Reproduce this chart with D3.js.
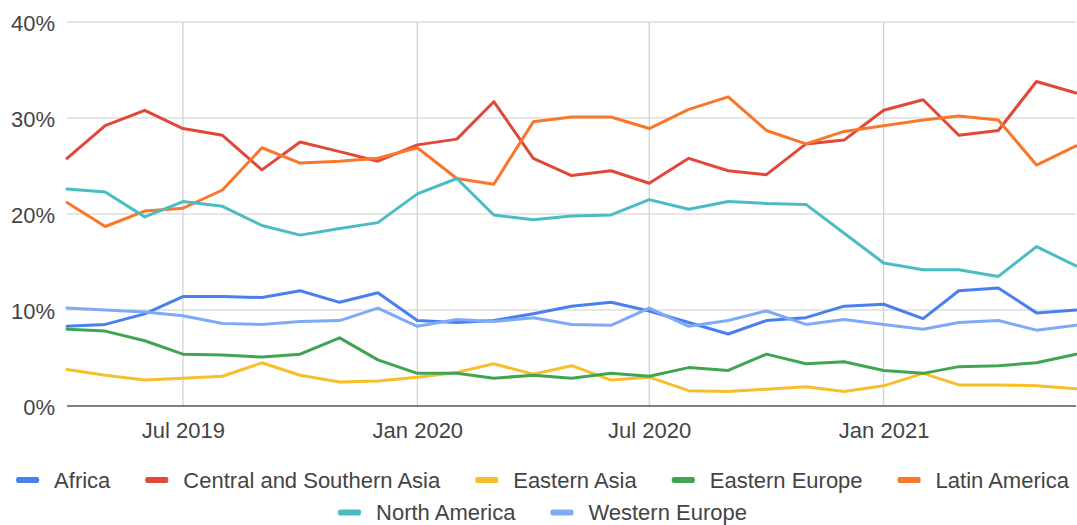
<!DOCTYPE html>
<html>
<head>
<meta charset="utf-8">
<script src="https://cdn.jsdelivr.net/npm/d3@7"></script>
<style>
  html, body { margin: 0; padding: 0; background: #fff; }
  svg text { font-family: "Liberation Sans", Arial, sans-serif; fill: #444; }
</style>
</head>
<body>
<svg id="chart" width="1077" height="525"></svg>
<script>
// Monthly share by region, Apr 2019 – Jun 2021 (percent)
const months = [
  "2019-04","2019-05","2019-06","2019-07","2019-08","2019-09","2019-10","2019-11","2019-12",
  "2020-01","2020-02","2020-03","2020-04","2020-05","2020-06","2020-07","2020-08","2020-09",
  "2020-10","2020-11","2020-12","2021-01","2021-02","2021-03","2021-04","2021-05","2021-06"
];
const seriesNames = ["Africa","Central and Southern Asia","Eastern Asia","Eastern Europe","Latin America","North America","Western Europe"];
const seriesColors = ["#4a7ff0","#e0483a","#f7c02b","#3fa553","#f9772a","#4cbcc4","#7eaaf6"];

const africa = [8.3,8.5,9.6,11.4,11.4,11.3,12.0,10.8,11.8,8.9,8.7,8.9,9.6,10.4,10.8,9.9,8.7,7.5,8.9,9.2,10.4,10.6,9.1,12.0,12.3,9.7,10.0];
const centralSouthernAsia = [25.8,29.2,30.8,28.9,28.2,24.6,27.5,26.5,25.5,27.2,27.8,31.7,25.8,24.0,24.5,23.2,25.8,24.5,24.1,27.3,27.7,30.8,31.9,28.2,28.7,33.8,32.6];
const easternAsia = [3.8,3.2,2.7,2.9,3.1,4.5,3.2,2.5,2.6,3.0,3.5,4.4,3.3,4.2,2.7,3.0,1.6,1.5,1.75,2.0,1.5,2.1,3.4,2.2,2.2,2.1,1.8];
const easternEurope = [8.0,7.8,6.8,5.4,5.3,5.1,5.4,7.1,4.8,3.4,3.4,2.9,3.2,2.9,3.4,3.1,4.0,3.7,5.4,4.4,4.6,3.7,3.4,4.1,4.2,4.5,5.4];
const latinAmerica = [21.2,18.7,20.3,20.6,22.5,26.9,25.3,25.5,25.8,26.9,23.7,23.1,29.6,30.1,30.1,28.9,30.9,32.2,28.7,27.3,28.6,29.2,29.8,30.2,29.8,25.1,27.1];
const northAmerica = [22.6,22.3,19.7,21.3,20.8,18.8,17.8,18.5,19.1,22.1,23.7,19.9,19.4,19.8,19.9,21.5,20.5,21.3,21.1,21.0,18.0,14.9,14.2,14.2,13.5,16.6,14.6];
const westernEurope = [10.2,10.0,9.8,9.4,8.6,8.5,8.8,8.9,10.2,8.3,9.0,8.8,9.2,8.5,8.4,10.2,8.3,8.9,9.9,8.5,9.0,8.5,8.0,8.7,8.9,7.9,8.4];

const yTicks = [0, 10, 20, 30, 40];
const xTickLabels = ["Jul 2019","Jan 2020","Jul 2020","Jan 2021"];

const seriesValues = [africa, centralSouthernAsia, easternAsia, easternEurope, latinAmerica, northAmerica, westernEurope];

const parseMonth = d3.timeParse("%Y-%m");
const dates = months.map(parseMonth);
const parseLabel = d3.timeParse("%b %Y");
const xTickDates = xTickLabels.map(parseLabel);

const svg = d3.select("#chart");
const plotLeft = 67, plotRight = 1076, plotTop = 22, plotBottom = 406;
const fontSize = "22px";

const x = d3.scaleTime().domain(d3.extent(dates)).range([plotLeft, plotRight]);
const y = d3.scaleLinear().domain([0, 40]).range([plotBottom, plotTop]);

// Horizontal gridlines
svg.append("g")
  .selectAll("line")
  .data(yTicks.filter(t => t > 0))
  .join("line")
  .attr("x1", plotLeft).attr("x2", plotRight)
  .attr("y1", d => y(d)).attr("y2", d => y(d))
  .attr("stroke", "#d0d0d0").attr("stroke-width", 1.2);

// Vertical gridlines at labelled months
svg.append("g")
  .selectAll("line")
  .data(xTickDates)
  .join("line")
  .attr("x1", d => x(d)).attr("x2", d => x(d))
  .attr("y1", plotTop).attr("y2", plotBottom)
  .attr("stroke", "#d0d0d0").attr("stroke-width", 1.2);

// Y axis labels
const yAxis = d3.axisLeft(y).tickValues(yTicks).tickFormat(d => d + "%").tickSize(0).tickPadding(12);
const gy = svg.append("g").attr("transform", `translate(${plotLeft},0)`).call(yAxis);
gy.select(".domain").remove();
gy.selectAll("text").style("font-size", fontSize).attr("fill", "#444").attr("dy", "0.38em");

// X axis labels
const xAxis = d3.axisBottom(x).tickValues(xTickDates).tickFormat(d3.timeFormat("%b %Y")).tickSize(0).tickPadding(16);
const gx = svg.append("g").attr("transform", `translate(0,${plotBottom})`).call(xAxis);
gx.select(".domain").remove();
gx.selectAll("text").style("font-size", fontSize).attr("fill", "#444");

// Baseline
svg.append("line")
  .attr("x1", plotLeft).attr("x2", plotRight)
  .attr("y1", y(0)).attr("y2", y(0))
  .attr("stroke", "#555").attr("stroke-width", 1.5);

// Series lines
const line = d3.line()
  .x((d, i) => x(dates[i]))
  .y(d => y(d));

svg.append("g")
  .selectAll("path")
  .data(seriesValues)
  .join("path")
  .attr("d", d => line(d))
  .attr("fill", "none")
  .attr("stroke", (d, i) => seriesColors[i])
  .attr("stroke-width", 3)
  .attr("stroke-linejoin", "round")
  .attr("stroke-linecap", "round");

// Legend (two centred rows; positions are text baselines)
const rows = [[0, 1, 2, 3, 4], [5, 6]];
const rowBaseline = [487.5, 520];
const markerW = 23, markerGap = 15, itemGap = 35;
const legend = svg.append("g");
rows.forEach((row, r) => {
  const g = legend.append("g");
  let cx = 0;
  row.forEach(idx => {
    const item = g.append("g").attr("transform", `translate(${cx},0)`);
    item.append("rect")
      .attr("x", 0).attr("y", rowBaseline[r] - 10.5)
      .attr("width", markerW).attr("height", 6)
      .attr("rx", 2)
      .attr("fill", seriesColors[idx]);
    const t = item.append("text")
      .attr("x", markerW + markerGap)
      .attr("y", rowBaseline[r])
      .style("font-size", fontSize)
      .text(seriesNames[idx]);
    cx += markerW + markerGap + t.node().getComputedTextLength() + itemGap;
  });
  const total = cx - itemGap;
  g.attr("transform", `translate(${(1077 - total) / 2 + 4},0)`);
});
</script>
</body>
</html>
